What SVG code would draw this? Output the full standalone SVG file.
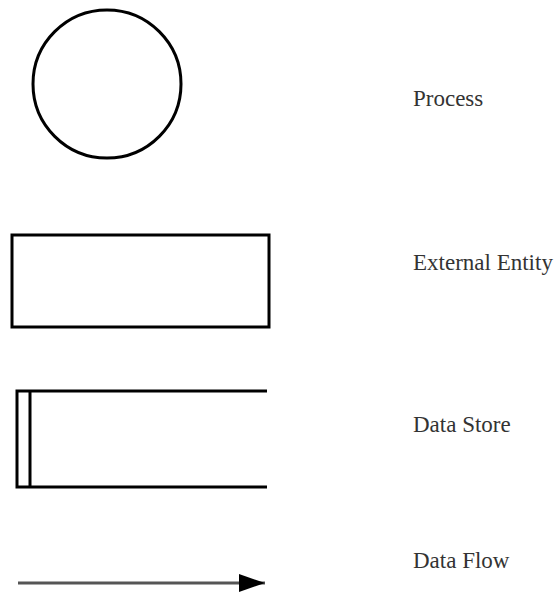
<svg xmlns="http://www.w3.org/2000/svg" width="559" height="594" viewBox="0 0 559 594">
<style>
.s{fill:none;stroke:#000;stroke-width:3}
.t{font-family:"Liberation Serif",serif;font-size:23px;fill:#333}
</style>
<defs>
<marker id="ah" markerWidth="26" markerHeight="20" refX="26" refY="10" orient="auto" markerUnits="userSpaceOnUse">
<path d="M0,1 L26,10 L0,19 Z" fill="#000"/>
</marker>
</defs>
<rect width="559" height="594" fill="#fff"/>
<g id="process">
<circle class="s" cx="107" cy="84" r="74"/>
<text class="t" x="413" y="106">Process</text>
</g>
<g id="external-entity">
<rect class="s" x="12" y="235" width="257" height="92"/>
<text class="t" x="413" y="270">External Entity</text>
</g>
<g id="data-store">
<path class="s" d="M267,391 H17 V487 H267 M30,391 V487"/>
<text class="t" x="413" y="432">Data Store</text>
</g>
<g id="connectors">
<line x1="18" y1="583" x2="265" y2="583" stroke="#555" stroke-width="3" marker-end="url(#ah)"/>
<text class="t" x="413" y="568">Data Flow</text>
</g>
</svg>
